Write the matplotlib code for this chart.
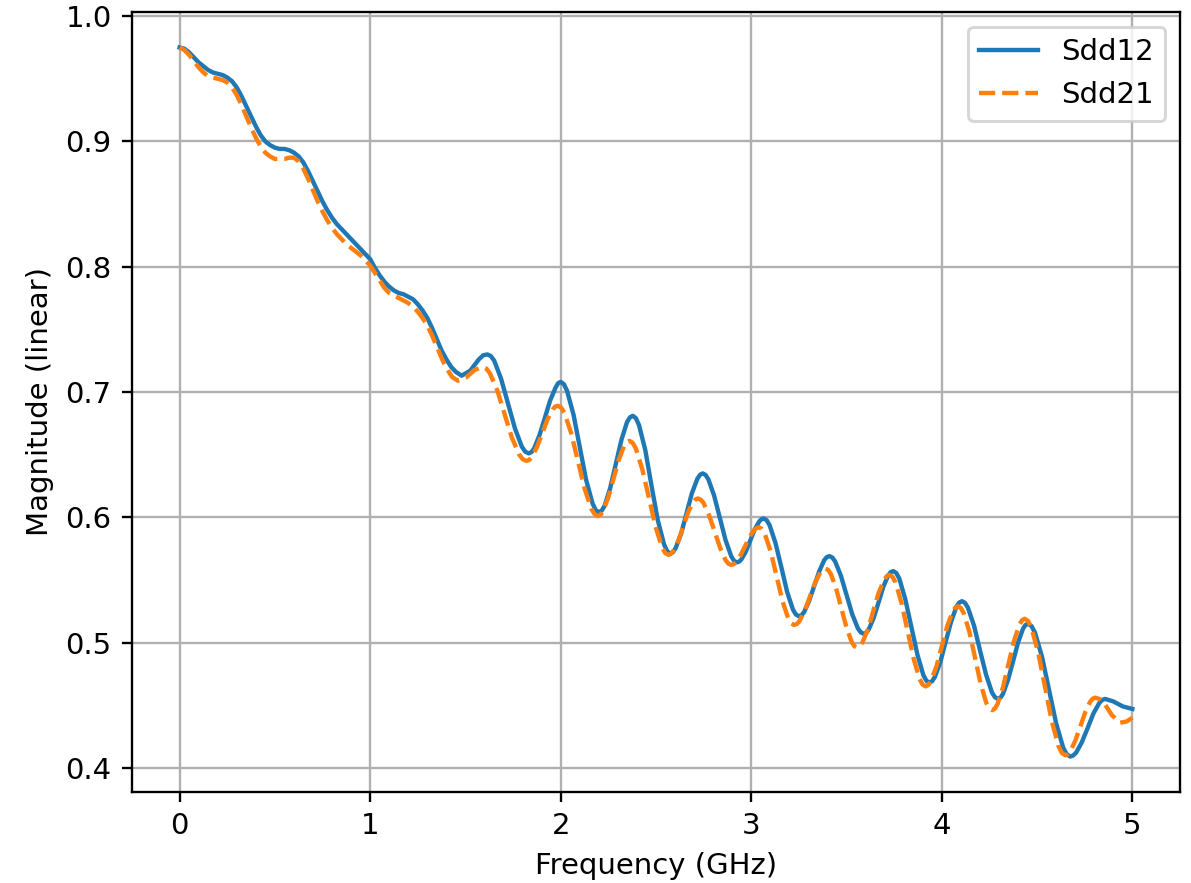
import matplotlib
matplotlib.use("Agg")
import matplotlib.pyplot as plt

# ---------------- Sdd12 (blue, solid) ----------------
freq_sdd12 = [
    0.000, 0.025, 0.050, 0.075, 0.100, 0.125, 0.150, 0.175, 0.200, 0.225, 0.250, 0.275,
    0.300, 0.325, 0.350, 0.375, 0.400, 0.425, 0.450, 0.475, 0.500, 0.525, 0.550, 0.575,
    0.600, 0.625, 0.650, 0.675, 0.700, 0.725, 0.750, 0.775, 0.800, 0.825, 0.850, 0.875,
    0.900, 0.925, 0.950, 0.975, 1.000, 1.025, 1.050, 1.075, 1.100, 1.125, 1.150, 1.175,
    1.200, 1.225, 1.250, 1.275, 1.300, 1.325, 1.350, 1.375, 1.400, 1.425, 1.450,
    1.48, 1.525, 1.57, 1.615,
    1.651, 1.687, 1.724, 1.760, 1.796, 1.832,
    1.860, 1.888, 1.916, 1.944, 1.972, 2.000,
    2.033, 2.067, 2.100, 2.133, 2.167, 2.200,
    2.230, 2.259, 2.289, 2.319, 2.348, 2.378,
    2.411, 2.444, 2.476, 2.509, 2.542, 2.575,
    2.603, 2.632, 2.660, 2.688, 2.717, 2.745,
    2.775, 2.805, 2.835, 2.865, 2.895, 2.925,
    2.948, 2.972, 2.995, 3.018, 3.042, 3.065,
    3.096, 3.127, 3.158, 3.188, 3.219, 3.250,
    3.277, 3.303, 3.330, 3.357, 3.383, 3.410,
    3.440, 3.470, 3.500, 3.530, 3.560, 3.590,
    3.616, 3.642, 3.668, 3.693, 3.719, 3.745,
    3.777, 3.808, 3.840, 3.872, 3.903, 3.935,
    3.963, 3.992, 4.020, 4.049, 4.077, 4.106,
    4.137, 4.169, 4.200, 4.232, 4.263, 4.295,
    4.321, 4.347, 4.374, 4.400, 4.426, 4.452,
    4.489, 4.526, 4.563, 4.600, 4.637, 4.674,
    4.705, 4.735, 4.766, 4.796, 4.827, 4.857,
    4.900, 4.950, 5.000,
]
mag_sdd12 = [
    0.975, 0.974, 0.971, 0.967, 0.963, 0.960, 0.957, 0.955, 0.954, 0.953, 0.951, 0.948,
    0.943, 0.936, 0.928, 0.920, 0.912, 0.905, 0.900, 0.897, 0.895, 0.894, 0.894, 0.893,
    0.891, 0.888, 0.883, 0.876, 0.868, 0.860, 0.852, 0.845, 0.839, 0.834, 0.830, 0.826,
    0.822, 0.818, 0.814, 0.810, 0.806, 0.799, 0.793, 0.788, 0.784, 0.781, 0.779, 0.778,
    0.776, 0.774, 0.770, 0.765, 0.759, 0.751, 0.742, 0.733, 0.726, 0.720, 0.716,
    0.713, 0.717, 0.726, 0.730,
    0.725, 0.7105, 0.6905, 0.6708, 0.6563, 0.651,
    0.6548, 0.6653, 0.679, 0.693, 0.7032, 0.708,
    0.701, 0.682, 0.656, 0.630, 0.611, 0.604,
    0.609, 0.623, 0.6425, 0.662, 0.676, 0.681,
    0.6735, 0.6535, 0.6255, 0.598, 0.5785, 0.571,
    0.5753, 0.587, 0.603, 0.619, 0.6307, 0.635,
    0.6302, 0.6173, 0.5995, 0.5818, 0.5688, 0.564,
    0.5663, 0.5728, 0.5815, 0.5903, 0.5967, 0.599,
    0.5938, 0.5795, 0.560, 0.5405, 0.5262, 0.521,
    0.5242, 0.533, 0.545, 0.557, 0.5658, 0.569,
    0.5648, 0.5535, 0.538, 0.5225, 0.5112, 0.507,
    0.5103, 0.5195, 0.532, 0.5445, 0.5537, 0.557,
    0.551, 0.5348, 0.5125, 0.4903, 0.474, 0.468,
    0.4724, 0.4843, 0.5005, 0.5168, 0.5287, 0.533,
    0.5278, 0.5135, 0.494, 0.4745, 0.4602, 0.455,
    0.459, 0.470, 0.485, 0.500, 0.511, 0.515,
    0.5079, 0.4885, 0.462, 0.4355, 0.4161, 0.409,
    0.4121, 0.4205, 0.432, 0.4435, 0.4519, 0.455,
    0.453, 0.449, 0.447,
]
# extra readings close to the peaks and troughs of Sdd12
freq_sdd12_near_ext = [
    1.593, 1.633, 1.814, 1.846, 1.986, 2.0167, 2.1833, 2.215, 2.363, 2.3945,
    2.5585, 2.589, 2.731, 2.760, 2.910, 2.9365, 3.0535, 3.0805, 3.2345, 3.2635,
    3.3965, 3.425, 3.575, 3.603, 3.732, 3.761, 3.919, 3.949, 4.0915, 4.1215,
    4.279, 4.308, 4.439, 4.4705, 4.6555, 4.689, 4.842,
]
mag_sdd12_near_ext = [
    0.7293, 0.7287, 0.6523, 0.652, 0.707, 0.7062, 0.6058, 0.6053, 0.6797, 0.6791,
    0.5729, 0.5721, 0.6339, 0.6338, 0.5652, 0.5646, 0.5984, 0.5977, 0.5223, 0.5218,
    0.5682, 0.5679, 0.5081, 0.5079, 0.5562, 0.5555, 0.4695, 0.4691, 0.5319, 0.5317,
    0.4563, 0.456, 0.514, 0.5132, 0.4108, 0.4098, 0.4542,
]

# ---------------- Sdd21 (orange, dashed) ----------------
freq_sdd21 = [
    0.000, 0.025, 0.050, 0.075, 0.100, 0.125, 0.150, 0.175, 0.200, 0.225, 0.250, 0.275,
    0.300, 0.325, 0.350, 0.375, 0.400, 0.425, 0.450, 0.475, 0.500, 0.525, 0.550, 0.575,
    0.600, 0.625, 0.650, 0.675, 0.700, 0.725, 0.750, 0.775, 0.800, 0.825, 0.850, 0.875,
    0.900, 0.925, 0.950, 0.975, 1.000, 1.025, 1.050, 1.075, 1.100, 1.125, 1.150, 1.175,
    1.200, 1.225, 1.250, 1.275, 1.300, 1.325, 1.350, 1.375, 1.400, 1.430,
    1.46, 1.503, 1.547, 1.590,
    1.628, 1.667, 1.705, 1.743, 1.782, 1.820,
    1.848, 1.875, 1.903, 1.930, 1.958, 1.985,
    2.020, 2.055, 2.090, 2.125, 2.160, 2.195,
    2.2225, 2.250, 2.2775, 2.305, 2.3325, 2.360,
    2.394, 2.428, 2.463, 2.497, 2.531, 2.565,
    2.591, 2.617, 2.643, 2.668, 2.694, 2.720,
    2.749, 2.778, 2.808, 2.837, 2.866, 2.895,
    2.919, 2.943, 2.968, 2.992, 3.016, 3.040,
    3.071, 3.102, 3.133, 3.163, 3.194, 3.225,
    3.2525, 3.280, 3.3075, 3.335, 3.3625, 3.390,
    3.4175, 3.445, 3.4725, 3.500, 3.5275, 3.555,
    3.583, 3.612, 3.640, 3.668, 3.697, 3.725,
    3.757, 3.788, 3.820, 3.852, 3.883, 3.915,
    3.943, 3.972, 4.000, 4.028, 4.057, 4.085,
    4.115, 4.145, 4.175, 4.204, 4.234, 4.264,
    4.2925, 4.321, 4.3495, 4.378, 4.4065, 4.435,
    4.4705, 4.506, 4.5415, 4.577, 4.6125, 4.648,
    4.674, 4.700, 4.727, 4.753, 4.779, 4.805,
    4.850, 4.893, 4.936, 4.970, 5.000,
]
mag_sdd21 = [
    0.975, 0.973, 0.969, 0.964, 0.959, 0.955, 0.952, 0.951, 0.950, 0.949, 0.947, 0.943,
    0.937, 0.929, 0.920, 0.911, 0.903, 0.896, 0.891, 0.888, 0.886, 0.886, 0.886, 0.887,
    0.887, 0.884, 0.878, 0.870, 0.861, 0.852, 0.844, 0.837, 0.831, 0.826, 0.822, 0.818,
    0.815, 0.812, 0.809, 0.805, 0.801, 0.795, 0.789, 0.783, 0.779, 0.777, 0.775, 0.773,
    0.771, 0.768, 0.764, 0.759, 0.753, 0.745, 0.736, 0.727, 0.719, 0.712,
    0.709, 0.7115, 0.7175, 0.720,
    0.715, 0.7013, 0.6825, 0.6638, 0.650, 0.645,
    0.648, 0.656, 0.667, 0.678, 0.686, 0.689,
    0.6831, 0.667, 0.645, 0.623, 0.6069, 0.601,
    0.605, 0.616, 0.631, 0.646, 0.657, 0.661,
    0.655, 0.6383, 0.6155, 0.5928, 0.5761, 0.570,
    0.573, 0.5813, 0.5925, 0.6038, 0.612, 0.615,
    0.6115, 0.6018, 0.5885, 0.5753, 0.5655, 0.562,
    0.564, 0.5695, 0.577, 0.5845, 0.590, 0.592,
    0.5868, 0.5725, 0.553, 0.5335, 0.5192, 0.514,
    0.517, 0.5253, 0.5365, 0.5478, 0.556, 0.559,
    0.5548, 0.5433, 0.5275, 0.5118, 0.5002, 0.496,
    0.4999, 0.5105, 0.525, 0.5395, 0.5501, 0.554,
    0.548, 0.5318, 0.5095, 0.4873, 0.471, 0.465,
    0.4693, 0.481, 0.497, 0.513, 0.5247, 0.529,
    0.5234, 0.5083, 0.4875, 0.4668, 0.4516, 0.446,
    0.4509, 0.4643, 0.4825, 0.5008, 0.5141, 0.519,
    0.5117, 0.4918, 0.4645, 0.4373, 0.4173, 0.410,
    0.4131, 0.4215, 0.433, 0.4445, 0.4529, 0.456,
    0.452, 0.442, 0.436, 0.437, 0.440,
]
# extra readings close to the peaks and troughs of Sdd21
freq_sdd21_near_ext = [
    1.609, 1.801, 1.834, 1.971, 2.0025, 2.1775, 2.209, 2.346, 2.377, 2.548,
    2.578, 2.707, 2.7345, 2.8805, 2.907, 3.028, 3.0555, 3.2095, 3.239, 3.376,
    3.404, 3.541, 3.569, 3.711, 3.741, 3.899, 3.929, 4.071, 4.100, 4.249,
    4.278, 4.421, 4.453, 4.630, 4.661, 4.792, 4.828,
]
mag_sdd21_near_ext = [
    0.7187, 0.6463, 0.6457, 0.6883, 0.6875, 0.6025, 0.602, 0.660, 0.6595, 0.5715,
    0.5708, 0.6142, 0.6141, 0.5629, 0.5625, 0.5915, 0.5907, 0.5153, 0.5148, 0.5582,
    0.5579, 0.4971, 0.497, 0.553, 0.5525, 0.4665, 0.4661, 0.5279, 0.5276, 0.4474,
    0.4472, 0.5178, 0.5171, 0.4119, 0.4108, 0.4552, 0.4549,
]


def merged(f_main, m_main, f_extra, m_extra):
    pairs = sorted(zip(list(f_main) + list(f_extra), list(m_main) + list(m_extra)))
    return [p[0] for p in pairs], [p[1] for p in pairs]


x12, y12 = merged(freq_sdd12, mag_sdd12, freq_sdd12_near_ext, mag_sdd12_near_ext)
x21, y21 = merged(freq_sdd21, mag_sdd21, freq_sdd21_near_ext, mag_sdd21_near_ext)

DPI = 210
fig = plt.figure(figsize=(1191 / DPI, 883 / DPI), dpi=DPI)
ax = fig.add_axes([132 / 1191, 1 - 792 / 883, (1180 - 132) / 1191, (792 - 12) / 883])

ax.plot(x12, y12, color="#1f77b4", linestyle="-", linewidth=1.5, label="Sdd12")
ax.plot(x21, y21, color="#ff7f0e", linestyle="--", linewidth=1.5, label="Sdd21")

ax.set_xlabel("Frequency (GHz)")
ax.set_ylabel("Magnitude (linear)")
ax.set_xticks([0, 1, 2, 3, 4, 5])
ax.set_yticks([0.4, 0.5, 0.6, 0.7, 0.8, 0.9, 1.0])
ax.grid(True)
ax.legend(loc="upper right")

fig.savefig("out.png", dpi=DPI)
